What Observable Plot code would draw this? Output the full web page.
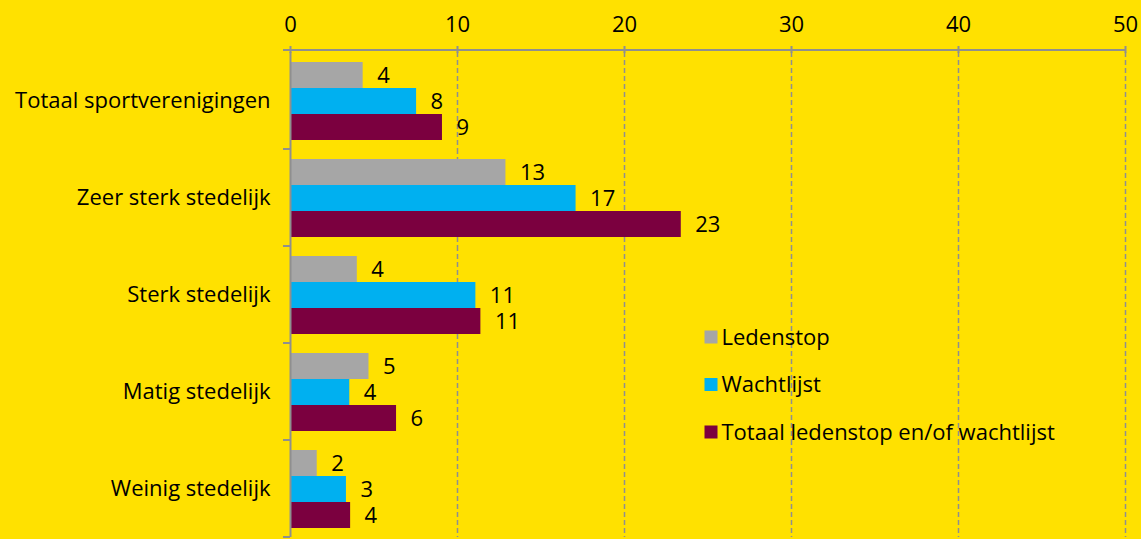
<!DOCTYPE html>
<html><head><meta charset="utf-8">
<script src="https://cdn.jsdelivr.net/npm/d3@7"></script>
<script src="https://cdn.jsdelivr.net/npm/@observablehq/plot@0.6"></script>
<style>
html,body{margin:0;padding:0;background:#FFE100;}
#chart svg{display:block;}
</style>
</head><body><div id="chart"></div>
<script>
const categories = ["Totaal sportverenigingen","Zeer sterk stedelijk","Sterk stedelijk","Matig stedelijk","Weinig stedelijk"];
const series = ["Ledenstop","Wachtlijst","Totaal ledenstop en/of wachtlijst"];
const ledenstop = [4.35, 12.9, 4.0, 4.7, 1.6];
const wachtlijst = [7.55, 17.1, 11.1, 3.55, 3.35];
const totaalLW = [9.1, 23.4, 11.4, 6.35, 3.6];
const xTicks = [0, 10, 20, 30, 40, 50];
const colors = ["#A6A6A6", "#00B0F0", "#7B003F"];
const axisGray = "#8F8F8F";
const font = "'Open Sans', 'Noto Sans', sans-serif";
const fs = 22;

const seriesValues = [ledenstop, wachtlijst, totaalLW];
const data = categories.flatMap((c, i) => series.map((s, j) => ({category: c, series: s, value: seriesValues[j][i]})));

const chart = Plot.plot({
  width: 1141,
  height: 539,
  marginTop: 50,
  marginBottom: 0,
  marginLeft: 290,
  marginRight: 16,
  style: {background: "#FFE100", fontFamily: font, fontSize: fs + "px", color: "#000"},
  x: {domain: [0, 50]},
  y: {domain: series, axis: null, paddingInner: 0, paddingOuter: 0.335},
  fy: {domain: categories, padding: 0},
  color: {domain: series, range: colors},
  marks: [
    Plot.gridX(xTicks.slice(1), {stroke: axisGray, strokeOpacity: 1, strokeWidth: 1.5, strokeDasharray: "5,3"}),
    Plot.barX(data, {x: "value", y: "series", fy: "category", fill: "series"}),
    Plot.ruleX([0], {stroke: axisGray, strokeWidth: 2}),
    Plot.text(data, {x: "value", y: "series", fy: "category", text: d => d.value.toFixed(0), textAnchor: "start", dx: 14, fontSize: fs, fill: "#000"}),
    Plot.axisX(xTicks, {anchor: "top", tickSize: 7, tickPadding: 14, stroke: axisGray, strokeWidth: 2, label: null, fontSize: fs, fill: "#000"}),
    Plot.axisFy({anchor: "left", tickSize: 0, tickPadding: 20, label: null, fontSize: fs, fill: "#000"})
  ]
});

// overlay: top axis line, category boundary ticks and legend, placed via the chart's own scales
const xs = chart.scale("x");
const fys = chart.scale("fy");
const cs = chart.scale("color");
const xp = v => xs.apply(v);
const svg = d3.select(chart.tagName.toLowerCase() === "svg" ? chart : chart.querySelector("svg"));
const g = svg.append("g");
const topY = 50;
g.append("line").attr("x1", xp(0) - 7).attr("x2", xp(50)).attr("y1", topY).attr("y2", topY)
  .attr("stroke", axisGray).attr("stroke-width", 2);
let bounds;
if (fys && fys.apply) {
  const bw = fys.bandwidth != null ? fys.bandwidth : (539 - topY) / categories.length;
  bounds = categories.map(c => fys.apply(c)).concat([fys.apply(categories[categories.length - 1]) + bw]);
} else {
  const h = (539 - topY) / categories.length;
  bounds = categories.map((c, i) => topY + i * h).concat([539]);
}
bounds.slice(1).forEach(b => {
  g.append("line").attr("x1", xp(0) - 7).attr("x2", xp(0)).attr("y1", b).attr("y2", b)
    .attr("stroke", axisGray).attr("stroke-width", 2);
});
const lx = xp(25) - 3;
const ly0 = topY + 287;
series.forEach((s, i) => {
  const cy = ly0 + i * 47.5;
  g.append("rect").attr("x", lx).attr("y", cy - 6.5).attr("width", 13).attr("height", 13)
    .attr("fill", cs ? cs.apply(s) : colors[i]);
  g.append("text").attr("x", lx + 17).attr("y", cy).attr("dy", "0.35em").attr("text-anchor", "start")
    .attr("font-size", fs).attr("font-family", font).attr("fill", "#000").text(s);
});
document.getElementById("chart").appendChild(chart);
</script>
</body></html>
